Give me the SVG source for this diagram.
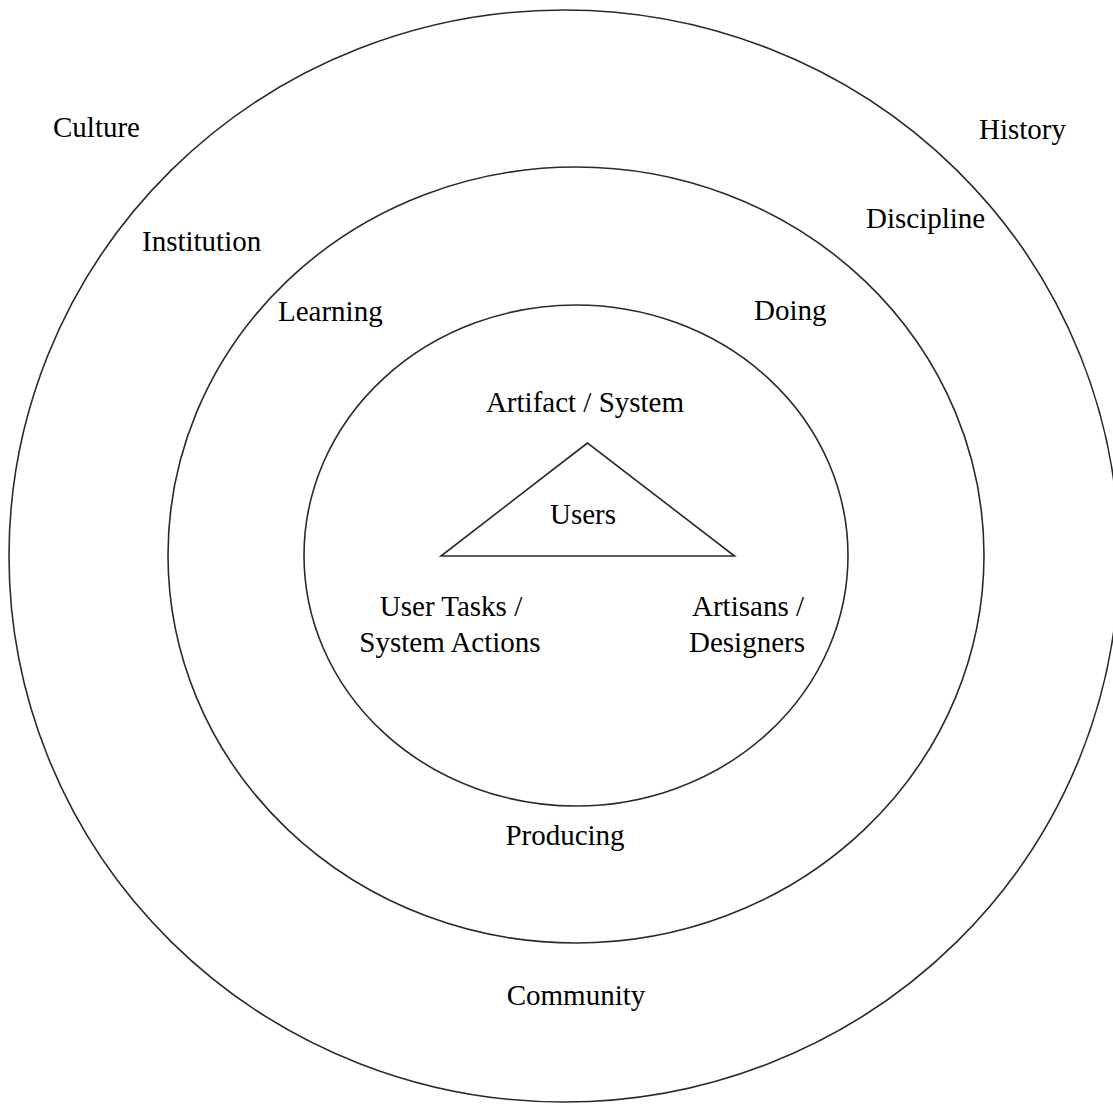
<svg xmlns="http://www.w3.org/2000/svg" width="1113" height="1106" viewBox="0 0 1113 1106">
<style>
.ring{fill:none;stroke:#2a2a2a;stroke-width:1.6}
.lbl{font-family:"Liberation Serif","Times New Roman",serif;font-size:29px;fill:#000}
.mid{text-anchor:middle}
</style>
<rect width="1113" height="1106" fill="#fff"/>
<g id="outer-ring">
<ellipse class="ring" cx="564" cy="556" rx="555" ry="546"/>
<text class="lbl" x="53" y="137">Culture</text>
<text class="lbl" x="979" y="139">History</text>
<text class="lbl mid" x="576" y="1005">Community</text>
</g>
<g id="middle-ring">
<ellipse class="ring" cx="576" cy="555" rx="408" ry="388"/>
<text class="lbl" x="142" y="251">Institution</text>
<text class="lbl" x="866" y="228">Discipline</text>
<text class="lbl mid" x="565" y="845">Producing</text>
</g>
<g id="inner-ring">
<ellipse class="ring" cx="576" cy="555.5" rx="272" ry="250.5"/>
<text class="lbl" x="278" y="321">Learning</text>
<text class="lbl" x="754" y="320">Doing</text>
</g>
<g id="triangle">
<polygon class="ring" points="587.5,443 441,556 734.5,556"/>
<text class="lbl mid" x="583" y="524">Users</text>
</g>
<g id="artifact">
<text class="lbl mid" x="585" y="412">Artifact / System</text>
</g>
<g id="user-tasks">
<text class="lbl mid" x="451" y="616">User Tasks /</text>
<text class="lbl mid" x="450" y="652">System Actions</text>
</g>
<g id="artisans">
<text class="lbl mid" x="748" y="616">Artisans /</text>
<text class="lbl mid" x="747" y="652">Designers</text>
</g>
<g id="connectors"></g>
</svg>
